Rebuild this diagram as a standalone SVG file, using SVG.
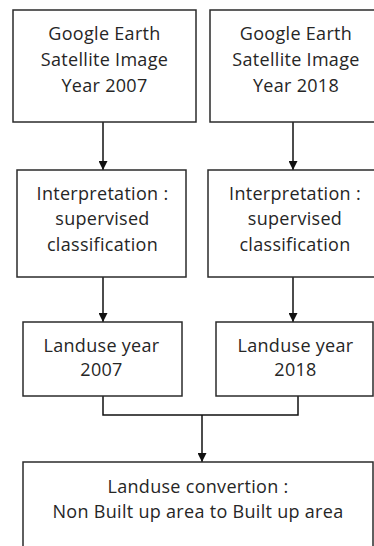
<svg xmlns="http://www.w3.org/2000/svg" width="374" height="546" viewBox="0 0 374 546">
<defs>
<style>
.box{fill:#fff;stroke:#2b2b2b;stroke-width:1.5}
.t{font-family:"Open Sans","DejaVu Sans",sans-serif;font-size:18px;letter-spacing:0.3px;fill:#262626;text-anchor:middle}
.c{fill:none;stroke:#111;stroke-width:1.5}
</style>
<marker id="ah" viewBox="0 0 10 10" refX="10" refY="5" markerWidth="10" markerHeight="9" markerUnits="userSpaceOnUse" orient="auto">
<path d="M0,0 L10,5 L0,10 z" fill="#111"/>
</marker>
</defs>
<rect width="374" height="546" fill="#fff"/>
<g id="connectors">
<line class="c" x1="103" y1="122" x2="103" y2="170" marker-end="url(#ah)"/>
<line class="c" x1="293" y1="122" x2="293" y2="170" marker-end="url(#ah)"/>
<line class="c" x1="103" y1="277" x2="103" y2="322" marker-end="url(#ah)"/>
<line class="c" x1="293" y1="277" x2="293" y2="322" marker-end="url(#ah)"/>
<polyline class="c" points="103,396 103,415 298,415 298,396"/>
<line class="c" x1="202" y1="415" x2="202" y2="462" marker-end="url(#ah)"/>
</g>
<g id="n1"><rect class="box" x="13" y="10" width="183" height="112"/>
<text class="t" x="104.5" y="40">Google Earth</text><text class="t" x="104.5" y="66">Satellite Image</text><text class="t" x="104.5" y="92">Year 2007</text></g>
<g id="n2"><rect class="box" x="210" y="10" width="180" height="112"/>
<text class="t" x="296" y="40">Google Earth</text><text class="t" x="296" y="66">Satellite Image</text><text class="t" x="296" y="92">Year 2018</text></g>
<g id="n3"><rect class="box" x="17" y="170" width="169" height="107"/>
<text class="t" x="102.5" y="200">Interpretation :</text><text class="t" x="102.5" y="225">supervised</text><text class="t" x="102.5" y="251">classification</text></g>
<g id="n4"><rect class="box" x="208" y="170" width="180" height="107"/>
<text class="t" x="295" y="200">Interpretation :</text><text class="t" x="295" y="225">supervised</text><text class="t" x="295" y="251">classification</text></g>
<g id="n5"><rect class="box" x="23" y="322" width="159" height="74"/>
<text class="t" x="101.5" y="352">Landuse year</text><text class="t" x="101.5" y="376">2007</text></g>
<g id="n6"><rect class="box" x="216" y="322" width="157" height="74"/>
<text class="t" x="295.5" y="352">Landuse year</text><text class="t" x="295.5" y="376">2018</text></g>
<g id="n7"><rect class="box" x="23" y="462" width="350" height="100"/>
<text class="t" x="198" y="493">Landuse convertion :</text><text class="t" x="198" y="518">Non Built up area to Built up area</text></g>
</svg>
